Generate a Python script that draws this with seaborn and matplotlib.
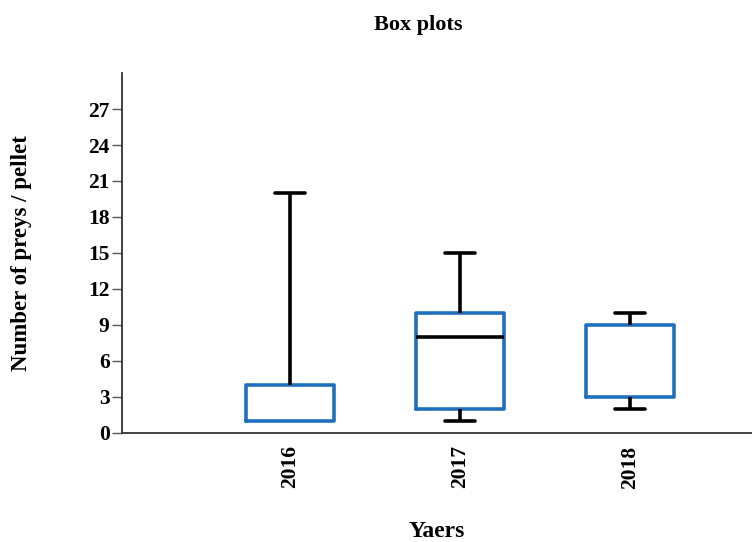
import pandas as pd
import seaborn as sns
import matplotlib.pyplot as plt

# summary values: min, q1, median, q3, max
years = ["2016", "2017", "2018"]
vals_2016 = [1, 1, 1, 4, 20]
vals_2017 = [1, 2, 8, 10, 15]
vals_2018 = [2, 3, 9, 9, 10]

df = pd.DataFrame({
    "year": ["2016"] * 5 + ["2017"] * 5 + ["2018"] * 5,
    "count": vals_2016 + vals_2017 + vals_2018,
})

sns.set_style("ticks")
plt.rcParams["font.family"] = ["Liberation Serif", "DejaVu Serif"]
plt.rcParams["font.weight"] = "bold"
plt.rcParams["text.color"] = "black"
plt.rcParams["axes.labelcolor"] = "black"
plt.rcParams["xtick.labelcolor"] = "black"
plt.rcParams["ytick.labelcolor"] = "black"

fig = plt.figure(figsize=(7.52, 5.42), dpi=100)
ax = fig.add_axes([122 / 752, 109 / 542, 630 / 752, 360 / 542])

blue = "#1f6fbd"
sns.boxplot(data=df, x="year", y="count", order=years, ax=ax, width=0.52,
            whis=(0, 100), fill=False, showfliers=False,
            boxprops=dict(color=blue, linewidth=2.6),
            whiskerprops=dict(color="black", linewidth=2.6),
            capprops=dict(color="black", linewidth=2.6),
            medianprops=dict(color="black", linewidth=2.6))

# hide medians / caps that sit on a box edge, narrow the caps
bx = ax.containers[0]
stats = [vals_2016, vals_2017, vals_2018]
for i, v in enumerate(stats):
    med = bx.medians[i]
    if v[2] in (v[1], v[3]):
        med.set_visible(False)
    lo_cap, hi_cap = bx.caps[2 * i], bx.caps[2 * i + 1]
    for cap in (lo_cap, hi_cap):
        xs = cap.get_xdata()
        c = (xs[0] + xs[1]) / 2
        cap.set_xdata([c - 0.09, c + 0.09])
    if v[0] == v[1]:
        lo_cap.set_visible(False)
        bx.whiskers[2 * i].set_visible(False)
    if v[4] == v[3]:
        hi_cap.set_visible(False)
        bx.whiskers[2 * i + 1].set_visible(False)

ax.set_xlim(-0.988, 2.718)
ax.set_ylim(0, 30)
ax.set_yticks(range(0, 28, 3))
sns.despine(ax=ax)
for s in ("left", "bottom"):
    ax.spines[s].set_linewidth(1.3)
    ax.spines[s].set_color("#333333")

ax.tick_params(axis="y", length=7, width=1, color="#555555", labelsize=15.5, pad=2)
ax.tick_params(axis="x", length=0, labelsize=15.5, pad=9)
for lab in ax.get_xticklabels():
    lab.set_rotation(90)
    lab.set_fontweight("bold")
for lab in ax.get_yticklabels():
    lab.set_fontweight("bold")

ax.set_xlabel("Yaers", fontsize=17, fontweight="bold", labelpad=23)
ax.set_ylabel("Number of preys / pellet", fontsize=16.5, fontweight="bold", labelpad=40)
fig.text(418 / 752, 1 - 25 / 542, "Box plots", ha="center", va="center",
         fontsize=16, fontweight="bold")

fig.savefig("out.png", dpi=100)
